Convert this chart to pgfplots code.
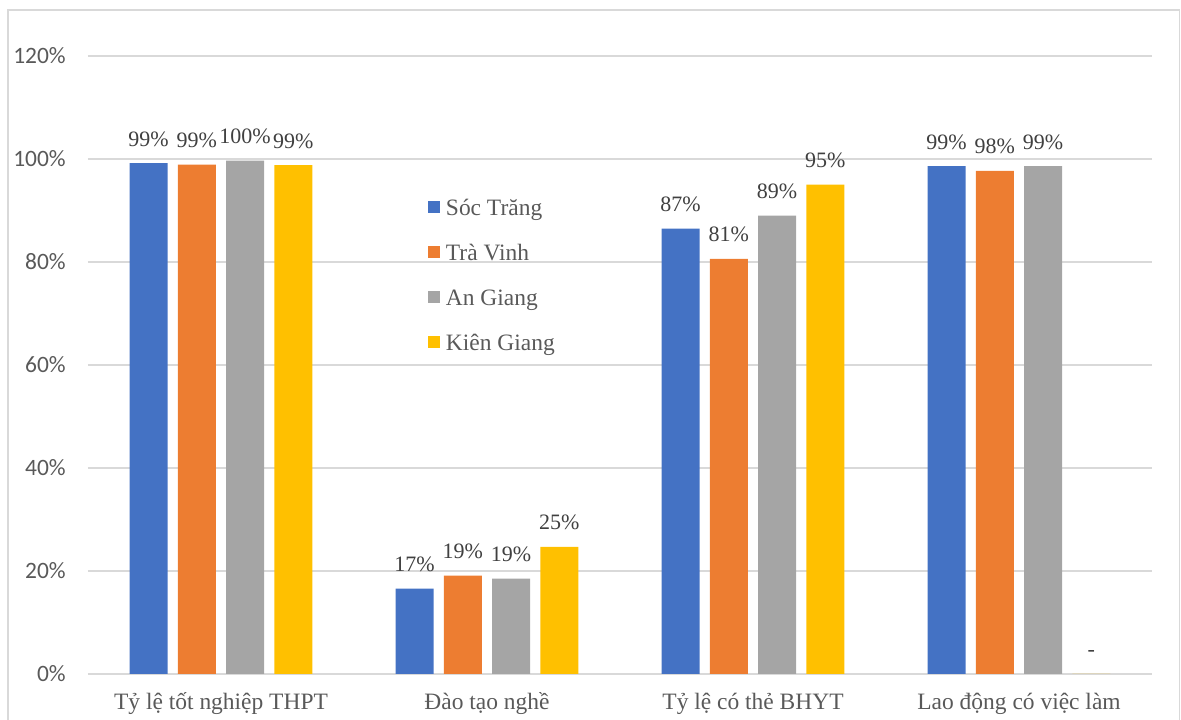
\documentclass[border=0pt]{standalone}
\usepackage{fontspec}
\setmainfont{Liberation Serif}
\newfontfamily\tickfont{Carlito}
\usepackage{pgfplots}
\pgfplotsset{compat=1.18}
\definecolor{cST}{HTML}{4472C4}
\definecolor{cTV}{HTML}{ED7D31}
\definecolor{cAG}{HTML}{A5A5A5}
\definecolor{cKG}{HTML}{FFC000}
\definecolor{gridc}{HTML}{D9D9D9}
\definecolor{txt}{HTML}{595959}
\definecolor{lbl}{HTML}{404040}
\begin{document}
\begin{tikzpicture}
\begin{axis}[
  scale only axis, width=798pt, height=463.5pt,
  xmin=-0.5, xmax=3.5, ymin=0, ymax=120,
  ybar=7.7pt, bar width=28.5pt,
  xtick={0,1,2,3},
  xticklabels={Tỷ lệ tốt nghiệp THPT, Đào tạo nghề, Tỷ lệ có thẻ BHYT, Lao động có việc làm},
  ytick={0,20,40,60,80,100,120},
  /pgf/number format/assume math mode=true,
  yticklabel={\pgfmathprintnumber{\tick}\%},
  major tick length=0pt,
  ymajorgrids, grid style={draw=gridc, line width=0.9pt},
  axis x line*=bottom, axis y line*=left,
  x axis line style={draw=gridc, line width=0.9pt, -},
  y axis line style={draw=none},
  yticklabel style={font=\tickfont\fontsize{17.6}{20}\selectfont, text=txt, anchor=east, inner sep=0pt, xshift=-16.5pt},
  xticklabel style={font=\fontsize{17.6}{20}\selectfont, text=txt, anchor=base, inner sep=0pt, yshift=-27pt},
  point meta=explicit symbolic,
  nodes near coords={\pgfplotspointmeta},
  every node near coord/.append style={font=\fontsize{16.5}{18}\selectfont, text=lbl, anchor=base, inner sep=0pt, yshift=12.75pt},
  clip=false,
  legend style={draw=none, fill=none, at={(0.3195,0.7707)}, anchor=north west,
    inner sep=0pt, outer sep=0pt, row sep=16.75pt,
    cells={anchor=base west},
    nodes={inner sep=0pt, text=txt, font=\fontsize{17.6}{20}\selectfont, text height=13pt, text depth=4pt}},
  legend image code/.code={\fill[#1, draw=none] (0pt,1.5pt) rectangle (9pt,10.5pt); \path (0pt,0pt) (13.5pt,0pt);},
]
\addplot[fill=cST, draw=none] table[x=x, y=y, meta=l] {
x y l
0 99.2 99\%
1 16.6 17\%
2 86.5 87\%
3 98.6 99\%
};
\addlegendentry{Sóc Trăng}
\addplot[fill=cTV, draw=none] table[x=x, y=y, meta=l] {
x y l
0 98.9 99\%
1 19.1 19\%
2 80.6 81\%
3 97.7 98\%
};
\addlegendentry{Trà Vinh}
\addplot[fill=cAG, draw=none] table[x=x, y=y, meta=l] {
x y l
0 99.7 100\%
1 18.5 19\%
2 89.0 89\%
3 98.6 99\%
};
\addlegendentry{An Giang}
\addplot[fill=cKG, draw=none] table[x=x, y=y, meta=l] {
x y l
0 98.8 99\%
1 24.7 25\%
2 95.0 95\%
3 0 -
};
\addlegendentry{Kiên Giang}
\end{axis}
\path[use as bounding box] ([xshift=-66pt,yshift=-34.5pt]current axis.south west) rectangle ([xshift=21.75pt,yshift=42pt]current axis.north east);
\draw[gridc, line width=0.9pt] ([xshift=-60pt,yshift=-60pt]current axis.south west) -- ([xshift=-60pt,yshift=34.5pt]current axis.north west) -- ([xshift=20.6pt,yshift=34.5pt]current axis.north east) -- ([xshift=20.6pt,yshift=-60pt]current axis.south east);
\end{tikzpicture}
\end{document}
